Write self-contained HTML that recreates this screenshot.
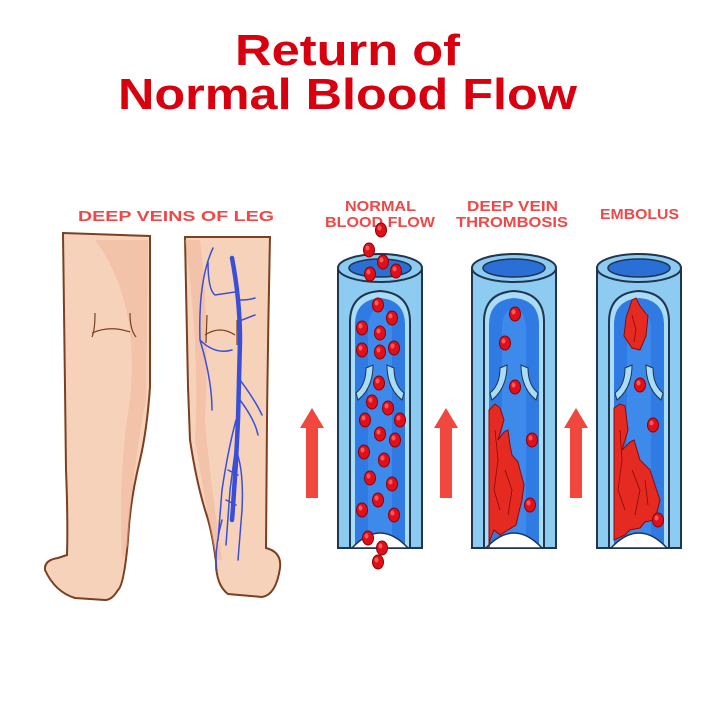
<!DOCTYPE html>
<html><head><meta charset="utf-8"><style>
html,body{margin:0;padding:0;background:#fff;}
svg{display:block}
</style></head><body>
<svg width="720" height="720" viewBox="0 0 720 720" xmlns="http://www.w3.org/2000/svg">
<defs>
<g id="tube">
  <rect x="0" y="268" width="84" height="280" fill="#8ecbf0" stroke="#1f3550" stroke-width="2"/>
  <path d="M12,548 L12,322 Q12,293 42,291 Q72,293 72,322 L72,548 Z" fill="#a9dcf7" stroke="#1f3550" stroke-width="2"/>
  <path d="M17,548 L17,325 Q17,300 42,298 Q67,300 67,325 L67,548 Z" fill="#2f7be3"/>
  <path d="M30,548 L30,330 Q30,310 42,308 Q54,310 54,330 L54,548 Z" fill="#4a94ef" opacity="0.6"/>
  <path d="M14,548 Q42,518 70,548 Z" fill="#fff" stroke="#1f3550" stroke-width="1.5"/>
  <ellipse cx="42" cy="268" rx="42" ry="14" fill="#8ecbf0" stroke="#1f3550" stroke-width="2"/>
  <ellipse cx="42" cy="268" rx="31" ry="9" fill="#2a6fd6" stroke="#1f3550" stroke-width="1.5"/>
  <path d="M18,393 Q28,385 28,368 L35,365 Q35,388 20,400 Z" fill="#a9dcf7" stroke="#1f3550" stroke-width="1"/>
  <path d="M66,393 Q56,385 56,368 L49,365 Q49,388 64,400 Z" fill="#a9dcf7" stroke="#1f3550" stroke-width="1"/>
</g>
<g id="rbc"><ellipse rx="5.5" ry="7" fill="#e0101a" stroke="#8a0008" stroke-width="1"/><ellipse cx="-1.5" cy="-2" rx="2" ry="2.5" fill="#ff5a5a"/></g>
<g id="arrow"><path d="M-6,498 L-6,428 L-12,428 L0,408 L12,428 L6,428 L6,498 Z" fill="#f0473f"/></g>
</defs>

<text x="235" y="65" textLength="225" lengthAdjust="spacingAndGlyphs" font-family="Liberation Sans, sans-serif" font-weight="bold" font-size="44" fill="#d8000f">Return of</text>
<text x="118" y="109" textLength="459" lengthAdjust="spacingAndGlyphs" font-family="Liberation Sans, sans-serif" font-weight="bold" font-size="44" fill="#d8000f">Normal Blood Flow</text>

<g font-family="Liberation Sans, sans-serif" font-weight="bold" font-size="15" fill="#f04848">
<text x="78" y="221" textLength="196" lengthAdjust="spacingAndGlyphs">DEEP VEINS OF LEG</text>
<text x="345" y="211" textLength="71" lengthAdjust="spacingAndGlyphs">NORMAL</text>
<text x="325" y="227" textLength="110" lengthAdjust="spacingAndGlyphs">BLOOD FLOW</text>
<text x="467" y="211" textLength="91" lengthAdjust="spacingAndGlyphs">DEEP VEIN</text>
<text x="456" y="227" textLength="112" lengthAdjust="spacingAndGlyphs">THROMBOSIS</text>
<text x="600" y="219" textLength="79" lengthAdjust="spacingAndGlyphs">EMBOLUS</text>
</g>

<!-- legs -->
<path d="M63,233 L150,236 L150,387 Q147,430 140,460 Q130,500 128,540 Q124,585 118,590 Q112,600 105,600 L75,598 Q55,592 45,570 Q44,560 58,558 L67,555 Q68,520 66,470 L65,387 Z" fill="#f7d2bb" stroke="#7a4020" stroke-width="2"/>
<path d="M95,240 Q140,300 130,400 Q118,470 122,560 L128,545 Q132,470 146,400 L148,240 Z" fill="#eab295" opacity="0.45"/>
<path d="M185,237 L270,237 Q268,330 267,420 L266,548 Q282,552 280,568 Q276,595 262,597 L228,594 Q216,585 216,562 Q212,530 205,510 Q196,480 190,440 L188,387 Z" fill="#f7d2bb" stroke="#7a4020" stroke-width="2"/>
<path d="M185,240 Q200,350 195,440 Q205,500 216,560 L222,560 Q210,480 205,420 Q210,320 200,240 Z" fill="#eab295" opacity="0.45"/>
<path d="M95,313 Q95,330 92,337 M130,313 Q130,330 136,337 M92,333 Q110,325 130,332" stroke="#7a4020" stroke-width="1.2" fill="none"/>
<path d="M207,315 L206,343 M237,320 L237,345 M205,335 Q220,325 235,335" stroke="#7a4020" stroke-width="1.2" fill="none"/>
<!-- veins -->
<g stroke="#3a4fd8" fill="none" stroke-linecap="round">
<path d="M232,258 Q240,300 240,340 L238,420 Q236,470 232,520" stroke-width="4.5"/>
<path d="M213,248 Q198,280 200,340 Q215,355 232,350 M200,340 Q212,380 212,410" stroke-width="1.5"/>
<path d="M208,262 Q208,290 215,295 L235,292 M240,300 Q250,300 255,298 M242,320 L255,315 M240,380 Q255,400 262,415 M240,400 Q255,420 258,435 M236,420 Q228,450 222,490 L218,540 M238,430 L230,490 L226,545 M236,450 Q244,470 242,510 L238,560 M228,470 L238,475 M226,500 L236,505 M222,520 Q215,545 216,570" stroke-width="1.5"/>
</g>

<!-- tubes -->
<use href="#tube" x="338"/>
<use href="#tube" x="472"/>
<use href="#tube" x="597"/>

<!-- clots -->
<g fill="#e52a22" stroke="#8a0a0a" stroke-width="1">
<path d="M489,410 L495,404 L500,408 L504,420 L498,440 L504,432 L508,430 L510,445 L512,455 L518,462 L520,470 L524,485 L522,500 L519,512 L516,525 L508,530 L500,535 L494,530 L490,540 L489,548 Z"/>
<path d="M614,408 L620,404 L625,406 L628,430 L622,450 L630,442 L634,440 L640,460 L650,470 L655,485 L660,500 L655,520 L645,522 L640,528 L630,530 L625,535 L614,540 Z"/>
<path d="M632,300 L636,298 L640,306 L648,316 L646,336 L640,350 L632,348 L624,336 L626,318 Z"/>
</g>
<g stroke="#8a0a0a" stroke-width="0.8" fill="none">
<path d="M495,430 L498,460 L494,490 L500,510 M505,470 L512,490 L508,515"/>
<path d="M620,430 L622,460 L618,490 L625,510 M632,470 L640,490 L635,515 M645,480 L648,505"/>
<path d="M632,315 L636,330 L634,342"/>
</g>

<!-- rbcs -->
<g>
<use href="#rbc" x="381" y="230"/><use href="#rbc" x="369" y="250"/><use href="#rbc" x="383" y="262"/><use href="#rbc" x="396" y="271"/><use href="#rbc" x="370" y="274"/>
<use href="#rbc" x="378" y="305"/><use href="#rbc" x="392" y="318"/><use href="#rbc" x="362" y="328"/><use href="#rbc" x="380" y="333"/><use href="#rbc" x="362" y="350"/><use href="#rbc" x="380" y="352"/><use href="#rbc" x="394" y="348"/>
<use href="#rbc" x="379" y="383"/><use href="#rbc" x="372" y="402"/><use href="#rbc" x="388" y="408"/><use href="#rbc" x="365" y="420"/><use href="#rbc" x="400" y="420"/><use href="#rbc" x="380" y="434"/><use href="#rbc" x="395" y="440"/><use href="#rbc" x="364" y="452"/><use href="#rbc" x="384" y="460"/><use href="#rbc" x="370" y="478"/><use href="#rbc" x="392" y="484"/><use href="#rbc" x="378" y="500"/><use href="#rbc" x="362" y="510"/><use href="#rbc" x="394" y="515"/>
<use href="#rbc" x="368" y="538"/><use href="#rbc" x="382" y="548"/><use href="#rbc" x="378" y="562"/>
<use href="#rbc" x="515" y="314"/><use href="#rbc" x="505" y="343"/><use href="#rbc" x="515" y="387"/><use href="#rbc" x="532" y="440"/><use href="#rbc" x="530" y="505"/>
<use href="#rbc" x="640" y="385"/><use href="#rbc" x="653" y="425"/><use href="#rbc" x="658" y="520"/>
</g>

<use href="#arrow" x="312"/>
<use href="#arrow" x="446"/>
<use href="#arrow" x="576"/>
</svg>
</body></html>
